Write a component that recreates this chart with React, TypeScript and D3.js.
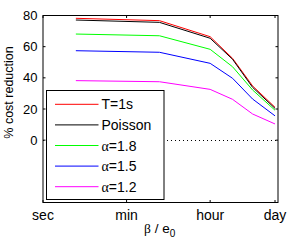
import React from "react";
import * as d3 from "d3";

// x positions in seconds (log axis), y = % cost reduction
const xSeconds = [5, 300, 3600, 10800, 28800, 86400];
const seriesT1s = [78.2, 76.7, 66.4, 52.5, 34.8, 21.1];
const seriesPoisson = [77.1, 75.6, 65.4, 51.9, 33.9, 20.4];
const seriesA18 = [68.1, 67.0, 58.3, 47.1, 32.2, 19.2];
const seriesA15 = [57.4, 56.4, 49.3, 39.7, 26.4, 15.6];
const seriesA12 = [38.2, 37.5, 32.6, 26.2, 16.8, 10.4];

const xTickValues = [1, 60, 3600, 86400];
const xTickLabels = ["sec", "min", "hour", "day"];
const yTickValues = [0, 20, 40, 60, 80];

const legendNames = ["T=1s", "Poisson", "α=1.8", "α=1.5", "α=1.2"];
const colors = ["#ff0000", "#000000", "#00ff00", "#0000ff", "#ff00ff"];

const W = 291;
const H = 242;
const font = "'Liberation Sans', Arial, Helvetica, sans-serif";

export default function App() {
  const left = 43;
  const right = 278;
  const top = 15.5;
  const bottom = 202.5;

  const x = d3.scaleLog().domain([1, 1e5]).range([left, right]);
  const y = d3.scaleLinear().domain([-40, 80]).range([bottom, top]);

  const all = [seriesT1s, seriesPoisson, seriesA18, seriesA15, seriesA12];
  const line = d3
    .line<number>()
    .x((_, i) => x(xSeconds[i]))
    .y((d) => y(d));

  const legX = 46.5;
  const legY = 90.5;
  const legW = 117.5;
  const legH = 109;
  const rowY = (i: number) => 104.3 + i * 20.6;

  const renderName = (name: string) => {
    if (name.startsWith("α")) {
      return (
        <>
          <tspan fontFamily="'Liberation Serif', 'Times New Roman', serif">α</tspan>
          <tspan>{name.slice(1)}</tspan>
        </>
      );
    }
    return name;
  };

  return (
    <svg
      width={W}
      height={H}
      style={{ position: "absolute", left: 0, top: 0, background: "#fff" }}
      fontFamily={font}
    >
      <rect x={0} y={0} width={W} height={H} fill="#fff" />

      {/* zero reference */}
      <line
        x1={left}
        x2={right}
        y1={Math.round(y(0)) + 0.5}
        y2={Math.round(y(0)) + 0.5}
        stroke="#000"
        strokeWidth={1}
        strokeDasharray="1,3"
      />

      {all.map((s, k) => (
        <path key={k} d={line(s) || ""} fill="none" stroke={colors[k]} strokeWidth={1} />
      ))}

      {/* axes box */}
      <rect
        x={left}
        y={top}
        width={right - left}
        height={bottom - top}
        fill="none"
        stroke="#000"
        strokeWidth={1}
      />

      {/* x ticks */}
      {xTickValues.map((v, i) => (
        <g key={"xt" + i}>
          <line x1={x(v)} x2={x(v)} y1={bottom} y2={bottom - 2.5} stroke="#000" />
          <line x1={x(v)} x2={x(v)} y1={top} y2={top + 2.5} stroke="#000" />
          <text x={x(v)} y={220} fontSize={14} textAnchor="middle" fill="#000">
            {xTickLabels[i]}
          </text>
        </g>
      ))}

      {/* y ticks */}
      {yTickValues.map((v) => (
        <g key={"yt" + v}>
          <line x1={left} x2={left + 2.5} y1={y(v)} y2={y(v)} stroke="#000" />
          <line x1={right} x2={right - 2.5} y1={y(v)} y2={y(v)} stroke="#000" />
          <text x={37.5} y={y(v) + 4.6} fontSize={13} textAnchor="end" fill="#000">
            {v}
          </text>
        </g>
      ))}

      {/* legend */}
      <rect x={legX} y={legY} width={legW} height={legH} fill="#fff" stroke="#000" strokeWidth={1} />
      {legendNames.map((name, i) => (
        <g key={"lg" + i}>
          <line x1={55} x2={98.5} y1={rowY(i)} y2={rowY(i)} stroke={colors[i]} strokeWidth={1} />
          <text x={101.5} y={rowY(i) + 5} fontSize={14} fill="#000">
            {renderName(name)}
          </text>
        </g>
      ))}

      {/* axis labels */}
      <text
        transform={`translate(13,92.5) rotate(-90)`}
        fontSize={12.5}
        textAnchor="middle"
        fill="#000"
      >
        % cost reduction
      </text>
      <text x={144} y={233} fontSize={13.5} fill="#000">
        <tspan fontFamily="'Liberation Serif', 'Times New Roman', serif">β</tspan>
        <tspan> / e</tspan>
        <tspan fontSize={10} dy={4}>0</tspan>
      </text>
    </svg>
  );
}
